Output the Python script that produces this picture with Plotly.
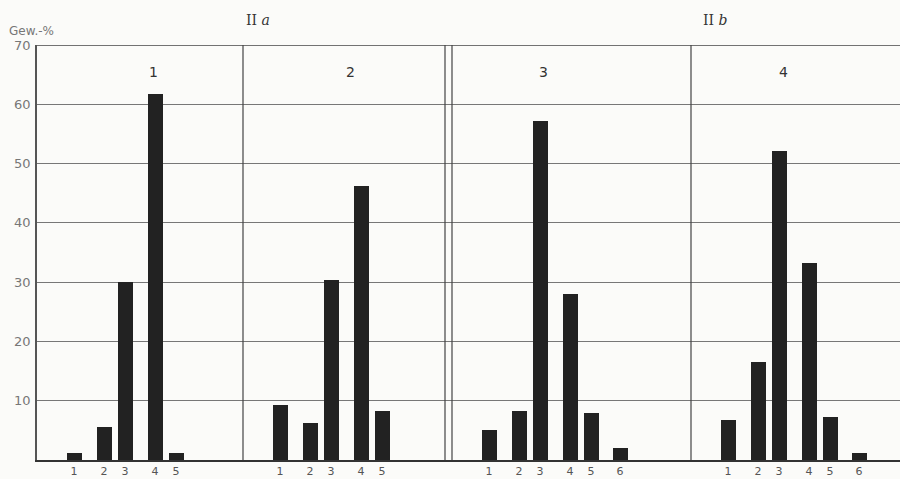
import plotly.graph_objects as go

# ---- data ----
panel_names = ["1", "2", "3", "4"]
group_names = ["II <i>a</i>", "II <i>b</i>"]
fractions_p1 = ["1", "2", "3", "4", "5"]
fractions_p2 = ["1", "2", "3", "4", "5"]
fractions_p3 = ["1", "2", "3", "4", "5", "6"]
fractions_p4 = ["1", "2", "3", "4", "5", "6"]
values_p1 = [1.2, 5.5, 30.0, 61.8, 1.2]
values_p2 = [9.3, 6.2, 30.3, 46.2, 8.3]
values_p3 = [5.0, 8.2, 57.2, 28.0, 8.0, 2.0]
values_p4 = [6.7, 16.5, 52.2, 33.3, 7.3, 1.2]
y_ticks = [10, 20, 30, 40, 50, 60, 70]

# layout helpers (x axis is a drawing scale)
panel_start = [0, 206, 415, 654]
fraction_offset = [37, 67, 88, 118, 139, 168]
title_offset = [116, 107, 91, 92]

fractions = [fractions_p1, fractions_p2, fractions_p3, fractions_p4]
values = [values_p1, values_p2, values_p3, values_p4]

fig = go.Figure()
tickvals, ticktext = [], []
for p, (fr, vals) in enumerate(zip(fractions, values)):
    xs = [panel_start[p] + fraction_offset[i] for i in range(len(fr))]
    tickvals += xs
    ticktext += fr
    fig.add_trace(go.Bar(x=xs, y=vals, width=15, marker=dict(color="#222222", line=dict(width=0)),
                         showlegend=False))

shapes = []
for p in [1, 3]:
    shapes.append(dict(type="line", xref="x", yref="y", x0=panel_start[p], x1=panel_start[p],
                       y0=0, y1=70, line=dict(color="#444", width=1.2)))
shapes.append(dict(type="line", xref="x", yref="y", x0=panel_start[2] - 7, x1=panel_start[2] - 7,
                   y0=0, y1=70, line=dict(color="#444", width=1.2)))
shapes.append(dict(type="line", xref="x", yref="y", x0=panel_start[2], x1=panel_start[2],
                   y0=0, y1=70, line=dict(color="#444", width=1.2)))
shapes.append(dict(type="line", xref="paper", yref="y", x0=0, x1=1, y0=70, y1=70,
                   line=dict(color="#444", width=1.5)))

PLOT_TOP, PLOT_BOTTOM = 45, 460
PH = PLOT_BOTTOM - PLOT_TOP

annotations = []
for p, name in enumerate(panel_names):
    annotations.append(dict(x=panel_start[p] + title_offset[p], y=65.5, xref="x", yref="y",
                            text=name, showarrow=False,
                            font=dict(family="DejaVu Sans", size=14, color="#333")))
group_x = [221, 678]
for gx, g in zip(group_x, group_names):
    annotations.append(dict(x=gx, y=(PLOT_BOTTOM - 20) / PH, xref="x", yref="paper", yanchor="middle",
                            text=g, showarrow=False,
                            font=dict(family="DejaVu Serif", size=14, color="#333")))
annotations.append(dict(x=(7 - 37) / 863.0, y=(PLOT_BOTTOM - 31) / PH, xref="paper", yref="paper",
                        text="Gew.-%", showarrow=False, xanchor="left", yanchor="middle",
                        font=dict(family="DejaVu Sans", size=12, color="#777")))

fig.update_layout(
    width=900, height=479,
    margin=dict(l=37, r=0, t=PLOT_TOP, b=479 - PLOT_BOTTOM, autoexpand=False),
    paper_bgcolor="#fbfbf9", plot_bgcolor="#fbfbf9",
    bargap=0,
    xaxis=dict(range=[0, 863], tickvals=tickvals, ticktext=ticktext, showgrid=False,
               zeroline=False, showline=True, linecolor="#333", linewidth=2, automargin=False,
               ticks="", ticklen=0,
               tickfont=dict(family="DejaVu Sans", size=11, color="#555")),
    yaxis=dict(range=[0, 70], tickvals=y_ticks, showgrid=True, gridcolor="#777", gridwidth=1,
               zeroline=False, showline=True, linecolor="#555", linewidth=1.5, automargin=False,
               ticks="outside", ticklen=2, tickcolor="rgba(0,0,0,0)",
               tickfont=dict(family="DejaVu Sans", size=13, color="#777")),
    shapes=shapes, annotations=annotations,
)

fig.write_html("out.html")
